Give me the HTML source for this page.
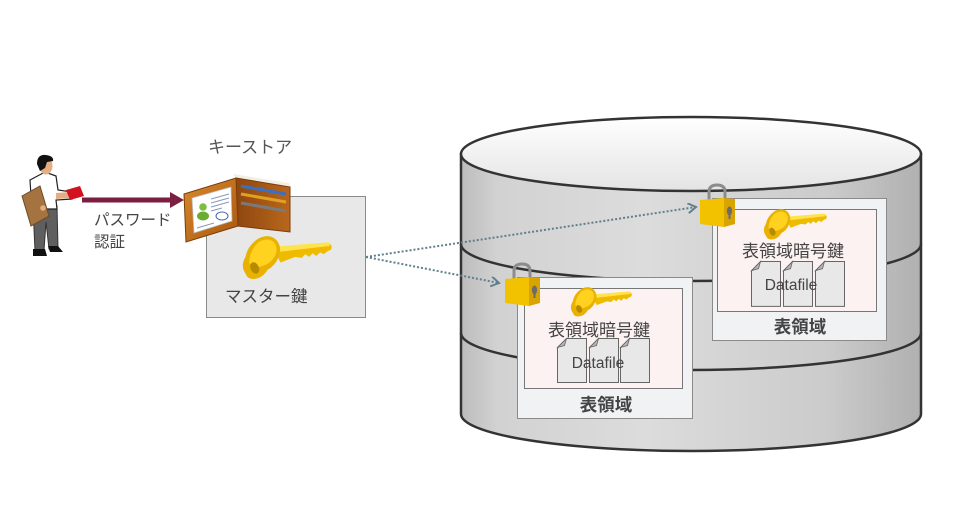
<!DOCTYPE html>
<html>
<head>
<meta charset="utf-8">
<style>
  html,body{margin:0;padding:0;background:#fff;}
  svg{display:block;}
  .jp{font-family:"Liberation Sans","Noto Sans CJK JP",sans-serif;}
</style>
</head>
<body>
<svg width="955" height="532" viewBox="0 0 955 532" xmlns="http://www.w3.org/2000/svg">
  <defs>
    <linearGradient id="side" x1="0" y1="0" x2="1" y2="0">
      <stop offset="0" stop-color="#bcbcbc"/>
      <stop offset="0.08" stop-color="#d2d2d2"/>
      <stop offset="0.4" stop-color="#dcdcdc"/>
      <stop offset="0.8" stop-color="#cbcbcb"/>
      <stop offset="1" stop-color="#b0b0b0"/>
    </linearGradient>
    <linearGradient id="top" x1="0" y1="0" x2="0" y2="1">
      <stop offset="0" stop-color="#ffffff"/>
      <stop offset="1" stop-color="#e4e4e4"/>
    </linearGradient>
    <linearGradient id="wl" x1="0" y1="0" x2="1" y2="1">
      <stop offset="0" stop-color="#d98a2c"/>
      <stop offset="1" stop-color="#a9560f"/>
    </linearGradient>
    <linearGradient id="wr" x1="0" y1="0" x2="1" y2="0">
      <stop offset="0" stop-color="#8f4710"/>
      <stop offset="1" stop-color="#b8671c"/>
    </linearGradient>
    <marker id="chev" markerUnits="userSpaceOnUse" markerWidth="12" markerHeight="12" refX="9" refY="5" orient="auto">
      <path d="M1,0 L9,5 L1,10" fill="none" stroke="#5f7f8c" stroke-width="2"/>
    </marker>
    <g id="key">
      <path d="M36,16 L96,11 Q101,13 99,18 L95,20 L91,23 L87,21 L83,25 L79,22 L75,26 L71,23 L67,27 L60,26 L44,32 Z" fill="#eebb00"/>
      <path d="M36,15 L96,10 L98,14 L38,21 Z" fill="#ffe34d"/>
      <path d="M6,44 Q0,36 6,26 Q8,14 20,6 Q32,0 40,8 Q46,16 42,26 Q38,36 30,40 Q24,50 14,50 Q8,50 6,44 Z" fill="#e9b200"/>
      <path d="M10,32 Q10,20 20,10 Q30,4 37,10 Q42,17 38,25 Q34,33 24,36 Q14,40 10,32 Z" fill="#ffd21f"/>
      <ellipse cx="16" cy="38" rx="4.5" ry="6.5" transform="rotate(-25 16 38)" fill="#b88a00"/>
    </g>
    <g id="lock">
      <path d="M9,18 L9,8 Q9,1 17,1 Q25,1 25,8 L25,18" fill="none" stroke="#8c8c8c" stroke-width="3"/>
      <path d="M0,16 L24,14 L24,43 L0,40 Z" fill="#f2c100"/>
      <path d="M24,14 L35,15 L35,40 L24,43 Z" fill="#d9a300"/>
      <ellipse cx="29.5" cy="27" rx="2.6" ry="4.5" fill="#6b6b6b"/>
      <rect x="28.5" y="29" width="2" height="6" fill="#6b6b6b"/>
    </g>
    <g id="doc">
      <path d="M9,0 L29,0 L29,44 L0,44 L0,9 Z" fill="#e8e8e8" stroke="#666" stroke-width="1"/>
      <path d="M0,9 L9,0 L7,7 Z" fill="#b5b5b5" stroke="#666" stroke-width="0.8"/>
    </g>
  </defs>

  <!-- Person -->
  <g>
    <!-- pants -->
    <path d="M33,206 L57,206 L58,248 L49,249 L46,222 L44,250 L35,251 Z" fill="#5f5f5f" stroke="#333" stroke-width="1"/>
    <!-- shoes -->
    <path d="M33,249 L45,249 L47,256 L33,256 Z" fill="#111"/>
    <path d="M48,246 L58,246 L63,252 L50,252 Z" fill="#111"/>
    <!-- shirt -->
    <path d="M30,180 L45,172 L56,176 L58,190 L72,192 L72,199 L56,200 L57,209 L33,209 L31,196 Z" fill="#ffffff" stroke="#222" stroke-width="1.2"/>
    <!-- folder -->
    <path d="M22,196 L40,186 L49,216 L31,226 Z" fill="#a5733f" stroke="#6d4a25" stroke-width="1"/>
    <!-- arm skin -->
    <path d="M56,193 L70,192 L70,198 L56,199 Z" fill="#e5ad82"/>
    <!-- red card -->
    <path d="M66,190 L80,186 L84,196 L70,200 Z" fill="#d3121f"/>
    <circle cx="43" cy="208" r="2.8" fill="#e5ad82"/>
    <!-- head -->
    <ellipse cx="46" cy="166" rx="6.5" ry="8.5" fill="#e5ad82"/>
    <path d="M37,164 Q37,154 46,155 Q54,156 53,161 L47,162 L45,168 L40,171 Z" fill="#111"/>
  </g>

  <!-- Red arrow -->
  <line x1="82" y1="200" x2="171" y2="200" stroke="#7b1f40" stroke-width="5"/>
  <path d="M170,192 L184,200 L170,208 Z" fill="#7b1f40"/>
  <text x="94" y="225" class="jp" font-size="15.5" fill="#444">パスワード</text>
  <text x="94" y="247" class="jp" font-size="15.5" fill="#444">認証</text>

  <!-- Keystore label -->
  <text x="208" y="153" class="jp" font-size="17" fill="#555">キーストア</text>

  <!-- Keystore box -->
  <rect x="206.5" y="196.5" width="159" height="121" fill="#e8e8e8" stroke="#8a8a8a" stroke-width="1"/>

  <!-- Wallet -->
  <g>
    <path d="M233,174 L289,183 L291,187 L236,179 Z" fill="#f3efe3"/>
    <path d="M236,178 L290,187 L290,232 L238,226 Z" fill="url(#wr)" stroke="#7a3c0c" stroke-width="1"/>
    <line x1="241" y1="186" x2="286" y2="194" stroke="#3a6fc4" stroke-width="3"/>
    <line x1="241" y1="194" x2="286" y2="202" stroke="#e0a020" stroke-width="3"/>
    <line x1="241" y1="203" x2="286" y2="211" stroke="#7a7a7a" stroke-width="3"/>
    <path d="M184,194 L236,178 L238,226 L186,242 Z" fill="url(#wl)" stroke="#7a3c0c" stroke-width="1"/>
    <path d="M192,198 L231,187 L232,221 L194,233 Z" fill="#ffffff" stroke="#bbb" stroke-width="0.8"/>
    <circle cx="203" cy="207" r="3.8" fill="#7cbf3e"/>
    <ellipse cx="203" cy="216" rx="6" ry="4.5" fill="#6aad32"/>
    <line x1="211" y1="199" x2="229" y2="194" stroke="#8899bb" stroke-width="1"/>
    <line x1="211" y1="203" x2="229" y2="198" stroke="#8899bb" stroke-width="1"/>
    <line x1="211" y1="207" x2="229" y2="202" stroke="#8899bb" stroke-width="1"/>
    <line x1="211" y1="211" x2="222" y2="208" stroke="#8899bb" stroke-width="1"/>
    <line x1="197" y1="228" x2="214" y2="223" stroke="#8899bb" stroke-width="1"/>
    <ellipse cx="222" cy="216" rx="6" ry="4" fill="none" stroke="#4466aa" stroke-width="1"/>
  </g>

  <!-- Master key -->
  <use href="#key" transform="translate(240,233) scale(0.92)"/>
  <text x="225" y="302" class="jp" font-size="16.5" fill="#444">マスター鍵</text>

  <!-- Cylinder -->
  <path d="M461,154 L461,414 A230,37 0 0 0 921,414 L921,154 Z" fill="url(#side)" stroke="#333" stroke-width="2.5"/>
  <ellipse cx="691" cy="154" rx="230" ry="37" fill="url(#top)" stroke="#333" stroke-width="2.5"/>
  <path d="M461,244 A230,37 0 0 0 921,244" fill="none" stroke="#333" stroke-width="2.5"/>
  <path d="M461,333 A230,37 0 0 0 921,333" fill="none" stroke="#333" stroke-width="2.5"/>

  <!-- Right tablespace -->
  <rect x="712.5" y="198.5" width="174" height="142" fill="#f0f2f3" stroke="#8a8a8a" stroke-width="1"/>
  <rect x="717.5" y="209.5" width="159" height="102" fill="#fdf2f2" stroke="#777" stroke-width="1"/>
  <use href="#key" transform="translate(762,207) scale(0.65)"/>
  <text x="793" y="257" text-anchor="middle" class="jp" font-size="17" fill="#444">表領域暗号鍵</text>
  <use href="#doc" transform="translate(751.5,261.5) scale(1,1.02)"/>
  <use href="#doc" transform="translate(783.5,261.5) scale(1,1.02)"/>
  <use href="#doc" transform="translate(815.5,261.5) scale(1,1.02)"/>
  <text x="791" y="290" text-anchor="middle" font-family="Liberation Sans, sans-serif" font-size="15.5" fill="#444">Datafile</text>
  <text x="800" y="333" text-anchor="middle" class="jp" font-size="17.5" font-weight="bold" fill="#444">表領域</text>

  <!-- Left tablespace -->
  <rect x="517.5" y="277.5" width="175" height="141" fill="#f0f2f3" stroke="#8a8a8a" stroke-width="1"/>
  <rect x="524.5" y="288.5" width="158" height="100" fill="#fdf2f2" stroke="#777" stroke-width="1"/>
  <use href="#key" transform="translate(569,285) scale(0.63)"/>
  <text x="599" y="336" text-anchor="middle" class="jp" font-size="17" fill="#444">表領域暗号鍵</text>
  <use href="#doc" transform="translate(557.5,338.5)"/>
  <use href="#doc" transform="translate(589.5,338.5)"/>
  <use href="#doc" transform="translate(620.5,338.5)"/>
  <text x="598" y="368" text-anchor="middle" font-family="Liberation Sans, sans-serif" font-size="15.5" fill="#444">Datafile</text>
  <text x="606" y="411" text-anchor="middle" class="jp" font-size="17.5" font-weight="bold" fill="#444">表領域</text>

  <!-- Locks -->
  <use href="#lock" transform="translate(505,263)"/>
  <use href="#lock" transform="translate(700,184)"/>

  <!-- Dotted connectors -->
  <line x1="366" y1="257" x2="696" y2="207" stroke="#5f7f8c" stroke-width="2" stroke-dasharray="2 2" marker-end="url(#chev)"/>
  <line x1="366" y1="257" x2="499" y2="283" stroke="#5f7f8c" stroke-width="2" stroke-dasharray="2 2" marker-end="url(#chev)"/>
</svg>
</body>
</html>
